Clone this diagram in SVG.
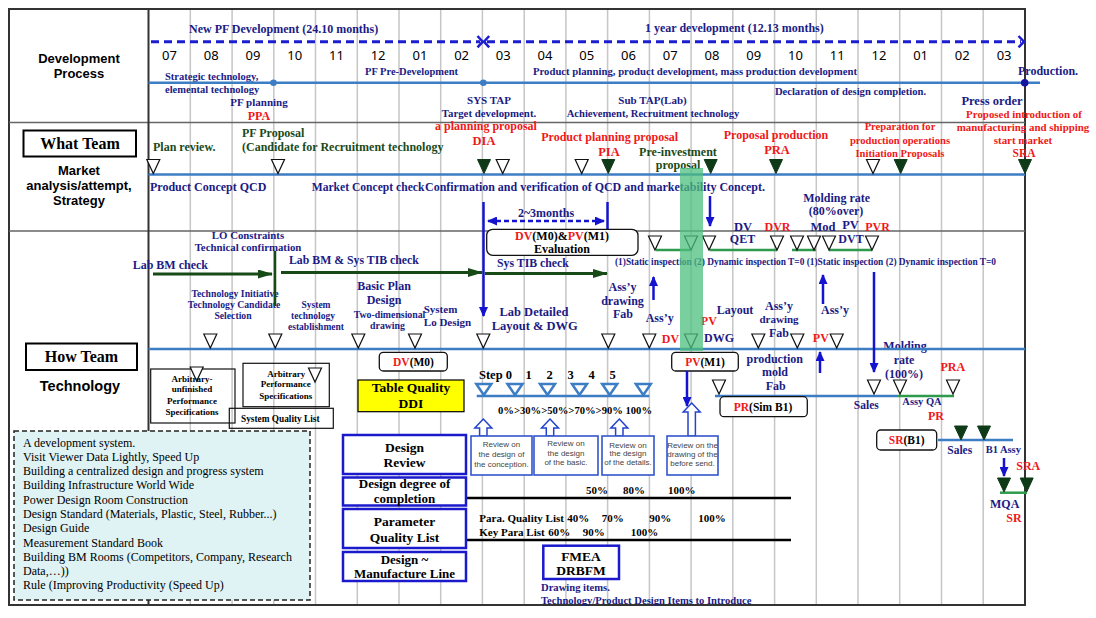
<svg xmlns="http://www.w3.org/2000/svg" xmlns:xlink="http://www.w3.org/1999/xlink" width="1096" height="618" viewBox="0 0 1096 618">
<defs>
<style>
.f{font-family:"Liberation Serif","Times New Roman",serif;font-weight:bold}
.r{font-family:"Liberation Serif","Times New Roman",serif}
.s{font-family:"Noto Sans","Liberation Sans",sans-serif}
.a{font-family:"Liberation Sans",Arial,sans-serif}
.b{font-weight:bold}
.m{text-anchor:middle}
.nv{fill:#1b1b85}
.rd{fill:#f01818}
.dg{fill:#1a4a1a}
.k{fill:#000}
.grid{stroke:#c6c6c6;stroke-width:1.5;fill:none}
.frm{stroke:#333;stroke-width:2;fill:none}
.tri{fill:#fff;stroke:#111;stroke-width:1.2}
.ftri{fill:#0f3a18;stroke:#0f3a18;stroke-width:1}
.sb{stroke:#3c7dc4;stroke-width:2.5;fill:none}
.gl{stroke:#2e9a4c;stroke-width:2.5;fill:none}
.ga{stroke:#174a17;stroke-width:3;fill:none}
.ba{stroke:#1414d0;stroke-width:2.5;fill:none}
.bx{fill:#fff;stroke:#1a1acc;stroke-width:2.5}
.rv{fill:#fff;stroke:#3355cc;stroke-width:1.6}
.rvt{font-family:"Liberation Sans",Arial,sans-serif;font-size:8px;fill:#444;text-anchor:middle}
.ha{fill:#fff;stroke:#2244cc;stroke-width:1.5}
.rb{fill:#fff;stroke:#111;stroke-width:1.3}
.tb{fill:none;stroke:#111;stroke-width:1.2}
</style>
<path id="tr" d="M-6.5,-14 L6.5,-14 L0,0 Z"/>
<path id="st" d="M-7.5,-11 L7.5,-11 L0,0 Z"/>
<marker id="ab" markerUnits="userSpaceOnUse" markerWidth="10" markerHeight="9" refX="9" refY="4.5" orient="auto"><path d="M0,0 L10,4.5 L0,9 Z" fill="#1414d0"/></marker>
<marker id="ab2" markerUnits="userSpaceOnUse" markerWidth="10" markerHeight="9" refX="9" refY="4.5" orient="auto-start-reverse"><path d="M0,0 L10,4.5 L0,9 Z" fill="#1414d0"/></marker>
<marker id="ag" markerUnits="userSpaceOnUse" markerWidth="15" markerHeight="9" refX="14" refY="4.5" orient="auto"><path d="M0,0 L15,4.5 L0,9 Z" fill="#174a17"/></marker>
</defs>
<rect width="1096" height="618" fill="#fff"/>

<g id="grid">
<path class="grid" d="M190.3,9V605M232.1,9V605M273.8,9V605M315.5,9V605M357.3,9V605M399,9V605M440.7,9V605M482.4,9V605M524.2,9V605M565.9,9V605M607.6,9V605M649.4,9V605M691.1,9V605M732.8,9V605M774.6,9V605M816.3,9V605M858,9V605M899.7,9V605M941.5,9V605M983.2,9V605"/>
<rect class="frm" x="9" y="9" width="1016" height="596"/>
<path d="M9,122.5H1025M9,231H1025" stroke="#666" stroke-width="1.5"/>
<path d="M148.5,9V605" stroke="#333" stroke-width="2"/>
</g>

<g id="row-labels">
<text class="a b m k" x="79" y="63" font-size="13">Development</text>
<text class="a b m k" x="79" y="78" font-size="13">Process</text>
<rect x="23.5" y="130.5" width="112.5" height="26" fill="#fff" stroke="#000" stroke-width="2"/>
<text class="f m k" x="80" y="148.5" font-size="16">What Team</text>
<text class="a b m k" x="79" y="174.5" font-size="13">Market</text>
<text class="a b m k" x="79" y="189.5" font-size="13">analysis/attempt,</text>
<text class="a b m k" x="79" y="204.5" font-size="13">Strategy</text>
<rect x="26" y="343.5" width="111" height="26.5" fill="#fff" stroke="#000" stroke-width="2"/>
<text class="f m k" x="81.5" y="362" font-size="16">How Team</text>
<text class="a b m k" x="80" y="391" font-size="14.5">Technology</text>
</g>

<g id="timeline">
<text class="f nv" x="189" y="33" font-size="12">New PF Development (24.10 months)</text>
<text class="f nv" x="645" y="32" font-size="12">1 year development (12.13 months)</text>
<path d="M151,41.7H480M487,41.7H1021" stroke="#1c1cd0" stroke-width="3" stroke-dasharray="8,5" fill="none"/>
<path d="M477.5,36 L482.7,41.7 L477.5,47.4M489.2,36 L484,41.7 L489.2,47.4M1018.5,36 L1024,41.7 L1018.5,47.4" stroke="#1c1cd0" stroke-width="2.5" fill="none"/>
<g class="s k m" font-size="13">
<text x="169.5" y="60">07</text><text x="211.2" y="60">08</text><text x="252.9" y="60">09</text><text x="294.7" y="60">10</text><text x="336.4" y="60">11</text><text x="378.1" y="60">12</text><text x="419.9" y="60">01</text><text x="461.6" y="60">02</text><text x="503.3" y="60">03</text><text x="545" y="60">04</text><text x="586.8" y="60">05</text><text x="628.5" y="60">06</text><text x="670.2" y="60">07</text><text x="712" y="60">08</text><text x="753.7" y="60">09</text><text x="795.4" y="60">10</text><text x="837.2" y="60">11</text><text x="878.9" y="60">12</text><text x="920.6" y="60">01</text><text x="962.3" y="60">02</text><text x="1004.1" y="60">03</text>
</g>
</g>

<g id="dev-process">
<text class="f nv" x="165" y="80" font-size="10.5">Strategic  technology,</text>
<text class="f nv" x="165" y="93" font-size="10.5">elemental technology</text>
<text class="f nv" x="365" y="75" font-size="10.5">PF Pre-Development</text>
<text class="f nv" x="533" y="75" font-size="10.6" textLength="324" lengthAdjust="spacingAndGlyphs">Product planning, product development, mass production development</text>
<text class="f nv" x="1018" y="75" font-size="12">Production.</text>
<text class="f nv m" x="259" y="106" font-size="11">PF planning</text>
<text class="f rd m" x="259" y="119.5" font-size="12">PPA</text>
<text class="f nv m" x="489" y="103.5" font-size="11">SYS TAP</text>
<text class="f nv m" x="489" y="117" font-size="10.8">Target development.</text>
<text class="f nv m" x="652.5" y="103.5" font-size="11">Sub TAP(Lab)</text>
<text class="f nv m" x="653" y="117" font-size="10.6">Achievement, Recruitment technology</text>
<text class="f nv m" x="850.5" y="95" font-size="10.6">Declaration of design completion.</text>
<text class="f nv m" x="992" y="105" font-size="12.5">Press order</text>
<text class="f rd m" x="1024" y="118" font-size="10.9">Proposed introduction of</text>
<text class="f rd m" x="1023" y="130.5" font-size="10.9">manufacturing and shipping</text>
<text class="f rd m" x="1023" y="143.5" font-size="10.9">start market</text>
<text class="f rd m" x="1024" y="156.5" font-size="11.5">SRA</text>
</g>

<g id="what-team">
<text class="f dg" x="153" y="151" font-size="12">Plan review.</text>
<text class="f dg" x="242" y="137" font-size="12">PF Proposal</text>
<text class="f dg" x="242" y="151" font-size="12">(Candidate for Recruitment technology</text>
<text class="f rd m" x="486" y="129.5" font-size="12">a planning proposal</text>
<text class="f rd m" x="484" y="144.5" font-size="12.5">DIA</text>
<text class="f rd m" x="609.7" y="141" font-size="12">Product planning proposal</text>
<text class="f rd m" x="609" y="155.5" font-size="12.5">PIA</text>
<text class="f dg m" x="678" y="155.5" font-size="12">Pre-investment</text>
<text class="f dg m" x="678" y="168.5" font-size="12">proposal</text>
<text class="f rd m" x="776" y="138.5" font-size="12">Proposal  production</text>
<text class="f rd m" x="777" y="153.5" font-size="12.5">PRA</text>
<text class="f rd m" x="900" y="130" font-size="10.6">Preparation for</text>
<text class="f rd m" x="900" y="143.5" font-size="10.6">production operations</text>
<text class="f rd m" x="900" y="156.5" font-size="10.6">Initiation Proposals</text>
<text class="f nv" x="150" y="191" font-size="12">Product Concept QCD</text>
<text class="f nv" x="311.7" y="191" font-size="11.6">Market Concept check</text>
<text class="f nv" x="425" y="191" font-size="12" textLength="340" lengthAdjust="spacingAndGlyphs">Confirmation and verification of QCD and marketability Concept.</text>
<text class="f nv m" x="546" y="216.5" font-size="12">2~3months</text>
<text class="f nv m" x="836.7" y="202" font-size="12">Molding rate</text>
<text class="f nv m" x="836" y="215" font-size="12">(80%over)</text>
<text class="f nv m" x="823" y="230.5" font-size="12.5">Mod</text>
<text class="f nv m" x="850.5" y="229" font-size="12.5">PV</text>
<text class="f rd m" x="877.5" y="230.5" font-size="12">PVR</text>
<text class="f nv m" x="743" y="230.5" font-size="12.5">DV</text>
<text class="f rd m" x="777.5" y="230.5" font-size="12">DVR</text>
</g>

<g id="how-team-top">
<text class="f nv m" x="248" y="238.5" font-size="10.8">LO Constraints</text>
<text class="f nv m" x="248" y="251.3" font-size="10.8">Technical confirmation</text>
<text class="f nv" x="132.7" y="269" font-size="12">Lab BM check</text>
<text class="f nv" x="289" y="263.5" font-size="11.8">Lab BM &amp; Sys TIB check</text>
<text class="f nv" x="497" y="266.8" font-size="11.8">Sys TIB check</text>
<text class="f nv m" x="742.5" y="243" font-size="12">QET</text>
<text class="f nv m" x="851" y="243" font-size="12">DVT</text>
<text class="f nv" x="615" y="265" font-size="10" textLength="381" lengthAdjust="spacingAndGlyphs">(1)Static inspection (2) Dynamic inspection T=0 (1)Static inspection (2) Dynamic inspection T=0</text>
<text class="f nv m" x="235" y="296.5" font-size="9.7">Technology Initiative</text>
<text class="f nv m" x="234" y="308" font-size="9.7">Technology Candidate</text>
<text class="f nv m" x="233" y="319" font-size="9.7">Selection</text>
<text class="f nv m" x="316" y="308" font-size="9.5">System</text>
<text class="f nv m" x="313" y="319" font-size="9.5">technology</text>
<text class="f nv m" x="316" y="329.5" font-size="9.5">establishment</text>
<text class="f nv m" x="384" y="290" font-size="12">Basic Plan</text>
<text class="f nv m" x="384" y="304" font-size="12">Design</text>
<text class="f nv m" x="389.5" y="318" font-size="9.8">Two-dimensional</text>
<text class="f nv m" x="387.5" y="329" font-size="9.8">drawing</text>
<text class="f nv m" x="440.5" y="312.5" font-size="11">System</text>
<text class="f nv m" x="447.5" y="326" font-size="11">Lo Design</text>
<text class="f nv m" x="534" y="315.5" font-size="12.5">Lab Detailed</text>
<text class="f nv m" x="534.7" y="329.5" font-size="12.5">Layout &amp; DWG</text>
<text class="f nv m" x="622.5" y="291" font-size="12">Ass’y</text>
<text class="f nv m" x="622.5" y="304.5" font-size="12">drawing</text>
<text class="f nv m" x="623" y="318" font-size="12">Fab</text>
<text class="f nv m" x="659.7" y="322" font-size="12">Ass’y</text>
<text class="f rd m" x="708.8" y="325" font-size="12">PV</text>
<text class="f nv m" x="735" y="314" font-size="12">Layout</text>
<text class="f rd m" x="670.5" y="342.5" font-size="12">DV</text>
<text class="f nv" x="704" y="342" font-size="12">DWG</text>
<text class="f nv m" x="779" y="309.5" font-size="12">Ass’y</text>
<text class="f nv m" x="779" y="322.5" font-size="11">drawing</text>
<text class="f nv m" x="779" y="336.5" font-size="12">Fab</text>
<text class="f nv m" x="835" y="313.5" font-size="12">Ass’y</text>
<text class="f rd m" x="820.8" y="341.5" font-size="12">PV</text>
<text class="f nv m" x="905" y="349.5" font-size="12">Molding</text>
<text class="f nv m" x="904" y="363.5" font-size="12">rate</text>
<text class="f nv m" x="904" y="378" font-size="12">(100%)</text>
<text class="f nv m" x="774.7" y="362.5" font-size="12">production</text>
<text class="f nv m" x="775" y="376" font-size="12">mold</text>
<text class="f nv m" x="775.8" y="390" font-size="12">Fab</text>
<text class="f rd m" x="952.8" y="370.5" font-size="12">PRA</text>
<text class="f nv m" x="866.3" y="408.5" font-size="11.5">Sales</text>
<text class="f nv m" x="922" y="405" font-size="10.5">Assy QA</text>
<text class="f rd m" x="936" y="419.5" font-size="12">PR</text>
<text class="f nv m" x="959.7" y="453.5" font-size="11.5">Sales</text>
<text class="f nv m" x="1003.3" y="452.5" font-size="10.5">B1 Assy</text>
<text class="f rd m" x="1028.3" y="469.5" font-size="12">SRA</text>
<text class="f nv m" x="1004.7" y="508" font-size="12">MQA</text>
<text class="f rd m" x="1014" y="522" font-size="12">SR</text>
</g>

<g id="connectors">
<path class="sb" stroke-width="2" d="M148.5,82.7H1040"/>
<circle cx="273.5" cy="82.7" r="3.3" fill="#3c7dc4"/>
<circle cx="483.3" cy="82.7" r="3.3" fill="#3c7dc4"/>
<circle cx="1024.7" cy="82.7" r="3.8" fill="#1414a0"/>
<path class="sb" d="M148.5,174.5H1025"/>
<path class="sb" d="M148.5,349H1025"/>
<path class="ba" d="M483.5,202V316" marker-end="url(#ab)"/>
<path class="ba" d="M607.5,202V229"/>
<path stroke="#1414d0" stroke-width="2.5" fill="none" stroke-dasharray="5,3" d="M488,221H604" marker-start="url(#ab2)" marker-end="url(#ab2)"/>
<path class="ba" d="M710,196V226" marker-end="url(#ab)"/>
<path d="M275,251V306" stroke="#174a17" stroke-width="2.5"/>
<path class="ga" d="M153,274H272" marker-end="url(#ag)"/>
<path class="ga" d="M281,272.5H482" marker-end="url(#ag)"/>
<path class="ga" d="M485,273.5H607" marker-end="url(#ag)"/>
<path class="gl" d="M656,250H690M710,250H777M792,250H816M829,250H872"/>
<path class="ba" d="M653.5,300V277" marker-end="url(#ab)"/>
<path class="ba" d="M823,304V275" marker-end="url(#ab)"/>
<path class="ba" d="M874,272V372" marker-end="url(#ab)"/>
<path class="ba" d="M820,373V352" marker-end="url(#ab)"/>
<path class="sb" d="M476.7,396H649.3" stroke-width="3"/>
<path class="sb" d="M715,396H897"/>
<path class="gl" d="M897,396H954"/>
<path class="sb" d="M938,440H1013"/>
<path class="gl" d="M1000,492.7H1027"/>
<path class="ba" d="M1004,458V476" marker-end="url(#ab)"/>
<path d="M466,498H791M466,540H791" stroke="#000" stroke-width="2.5"/>
</g>

<g id="triangles">
<g class="tri">
<use xlink:href="#tr" x="153.3" y="173.5"/><use xlink:href="#tr" x="278" y="173.5"/><use xlink:href="#tr" x="502.7" y="173.5"/><use xlink:href="#tr" x="581.7" y="173.5"/><use xlink:href="#tr" x="873" y="173.5"/>
<use xlink:href="#tr" x="655" y="250"/><use xlink:href="#tr" x="691" y="250"/><use xlink:href="#tr" x="709" y="250"/><use xlink:href="#tr" x="777" y="250"/><use xlink:href="#tr" x="797" y="250"/><use xlink:href="#tr" x="814" y="250"/><use xlink:href="#tr" x="829" y="250"/><use xlink:href="#tr" x="872" y="250"/>
<use xlink:href="#tr" x="210.3" y="348"/><use xlink:href="#tr" x="275.3" y="348"/><use xlink:href="#tr" x="358.3" y="348"/><use xlink:href="#tr" x="415" y="348"/><use xlink:href="#tr" x="483.3" y="348"/><use xlink:href="#tr" x="608.3" y="348"/><use xlink:href="#tr" x="649.3" y="348"/><use xlink:href="#tr" x="691" y="348"/><use xlink:href="#tr" x="758.3" y="348"/><use xlink:href="#tr" x="797.3" y="348"/><use xlink:href="#tr" x="836.7" y="348"/>
<use xlink:href="#tr" x="719" y="394"/><use xlink:href="#tr" x="874" y="394"/><use xlink:href="#tr" x="900" y="394"/><use xlink:href="#tr" x="953" y="394"/>
</g>
<g class="ftri">
<use xlink:href="#tr" x="484" y="173.5"/><use xlink:href="#tr" x="608.3" y="173.5"/><use xlink:href="#tr" x="710.7" y="173.5"/><use xlink:href="#tr" x="776" y="173.5"/><use xlink:href="#tr" x="900.7" y="173.5"/><use xlink:href="#tr" x="1025" y="173.5"/>
<use xlink:href="#tr" x="961" y="440"/><use xlink:href="#tr" x="984" y="440"/>
<use xlink:href="#tr" x="1004" y="492"/><use xlink:href="#tr" x="1026.7" y="492"/>
</g>
<g fill="#fff" stroke="#3c7dc4" stroke-width="2.5">
<use xlink:href="#st" x="483.8" y="395"/><use xlink:href="#st" x="515" y="395"/><use xlink:href="#st" x="547.5" y="395"/><use xlink:href="#st" x="579.5" y="395"/><use xlink:href="#st" x="609.7" y="395"/><use xlink:href="#st" x="643.3" y="395"/>
</g>
</g>

<g id="evaluation-box">
<rect class="rb" x="486.7" y="229.3" width="151.3" height="26" rx="6"/>
<text class="f m" x="562" y="240" font-size="12"><tspan class="rd">DV</tspan><tspan class="k">(M0)&amp;</tspan><tspan class="rd">PV</tspan><tspan class="k">(M1)</tspan></text>
<text class="f m k" x="562" y="252.8" font-size="12">Evaluation</text>
</g>

<g id="green-band">
<rect x="680" y="168" width="23" height="183" fill="#4cbf7c" opacity="0.75"/>
</g>

<g id="arbitrary">
<rect class="tb" x="150.7" y="369" width="84.3" height="54"/>
<use xlink:href="#tr" x="196.7" y="381" class="tri"/>
<text class="f m k" x="192" y="381.5" font-size="9">Arbitrary-</text>
<text class="f m k" x="192" y="392" font-size="9">unfinished</text>
<text class="f m k" x="192" y="403.5" font-size="9">Performance</text>
<text class="f m k" x="192" y="415" font-size="9">Specifications</text>
<rect class="tb" x="243" y="363.3" width="86.3" height="43.4"/>
<use xlink:href="#tr" x="315" y="382" class="tri"/>
<text class="f m k" x="286.3" y="376.7" font-size="9">Arbitrary</text>
<text class="f m k" x="285.8" y="387.3" font-size="9">Performance</text>
<text class="f m k" x="285.8" y="398.5" font-size="9">Specifications</text>
<rect class="tb" x="229.3" y="408.3" width="104" height="20" fill="#fff"/>
<text class="f m k" x="280.3" y="421.5" font-size="9.3">System Quality List</text>
</g>

<g id="notes">
<rect x="14" y="431" width="296" height="169" fill="#dff2f4" stroke="#222" stroke-width="1.5" stroke-dasharray="5,3"/>
<g class="r k" font-size="12">
<text x="23" y="446.5">A development system.</text>
<text x="23" y="460.8">Visit Viewer Data Lightly, Speed Up</text>
<text x="23" y="475">Building a centralized design and progress system</text>
<text x="23" y="489.3">Building Infrastructure World Wide</text>
<text x="23" y="503.5">Power Design Room Construction</text>
<text x="23" y="517.8">Design Standard (Materials, Plastic, Steel, Rubber...)</text>
<text x="23" y="532.2">Design Guide</text>
<text x="23" y="546.5">Measurement Standard Book</text>
<text x="23" y="560.8">Building BM Rooms (Competitors, Company, Research</text>
<text x="23" y="575">Data,…))</text>
<text x="23" y="589.3">Rule (Improving Productivity (Speed Up)</text>
</g>
</g>

<g id="dv-m0">
<rect class="rb" x="379.3" y="352.3" width="68" height="18.7" rx="4"/>
<text class="f m" x="413.5" y="365.5" font-size="11.5"><tspan class="rd">DV</tspan><tspan class="k">(M0)</tspan></text>
</g>
<g id="pv-m1">
<rect class="rb" x="671.7" y="352.3" width="66.6" height="18.7" rx="4"/>
<text class="f m" x="705" y="365.5" font-size="11.5"><tspan class="rd">PV</tspan><tspan class="k">(M1)</tspan></text>
<path class="ba" stroke-width="2" d="M687,371V406" marker-end="url(#ab)"/>
</g>
<g id="pr-sim">
<rect class="rb" x="720" y="396.7" width="87.3" height="20" rx="4"/>
<text class="f m" x="763" y="410.5" font-size="11.5"><tspan class="rd">PR</tspan><tspan class="k">(Sim B1)</tspan></text>
</g>
<g id="sr-b1">
<rect class="rb" x="876.7" y="430" width="60" height="20" rx="4"/>
<text class="f m" x="906.7" y="444" font-size="11.5"><tspan class="rd">SR</tspan><tspan class="k">(B1)</tspan></text>
</g>

<g id="ddi">
<rect x="358" y="380" width="106" height="31.7" fill="#ffff00" stroke="#000" stroke-width="1.2"/>
<text class="f m k" x="411" y="392" font-size="13.5">Table Quality</text>
<text class="f m k" x="411" y="408.3" font-size="13.5">DDI</text>
</g>

<g id="steps">
<text class="f k" font-size="12.5" y="378.5"><tspan x="479">Step 0</tspan><tspan x="525.5">1</tspan><tspan x="546.5">2</tspan><tspan x="567.5">3</tspan><tspan x="588.5">4</tspan><tspan x="609.5">5</tspan></text>
<text class="f k" x="498" y="414.3" font-size="11" textLength="154" lengthAdjust="spacingAndGlyphs">0%&gt;30%&gt;50%&gt;70%&gt;90% 100%</text>
</g>

<g id="review-arrows">
<path class="ha" d="M483.3,419 L491.8,428 L487,428 L487,436 L479.6,436 L479.6,428 L474.8,428 Z"/>
<path class="ha" d="M550,419 L558.5,428 L553.7,428 L553.7,436 L546.3,436 L546.3,428 L541.5,428 Z"/>
<path class="ha" d="M619.3,419 L627.8,428 L623,428 L623,436 L615.6,436 L615.6,428 L610.8,428 Z"/>
<path class="ha" d="M691.7,403 L700.2,412 L695.4,412 L695.4,436 L688,436 L688,412 L683.2,412 Z"/>
</g>

<g id="review-boxes">
<rect class="rv" x="471" y="436" width="61" height="39"/>
<text class="rvt" x="501.5" y="447">Review on</text><text class="rvt" x="501.5" y="457">the design of</text><text class="rvt" x="501.5" y="466.5">the conception.</text>
<rect class="rv" x="534" y="436" width="64" height="39"/>
<text class="rvt" x="566" y="446">Review on</text><text class="rvt" x="566" y="455.5">the design</text><text class="rvt" x="566" y="465">of the basic.</text>
<rect class="rv" x="602" y="436" width="52" height="39"/>
<text class="rvt" x="628" y="447.5" font-size="7.3">Review on</text><text class="rvt" x="628" y="456.2" font-size="7.3">the design</text><text class="rvt" x="628" y="465" font-size="7.3">of the details.</text>
<rect class="rv" x="667" y="436" width="51" height="39"/>
<text class="rvt" x="692.5" y="448" font-size="7.2">Review on the</text><text class="rvt" x="692.5" y="457" font-size="7.2">drawing of the</text><text class="rvt" x="692.5" y="466" font-size="7.2">before send.</text>
</g>

<g id="design-boxes">
<rect class="bx" x="343" y="435" width="123" height="39"/>
<text class="f m k" x="404.5" y="451.5" font-size="13.5">Design</text>
<text class="f m k" x="404.5" y="467" font-size="13.5">Review</text>
<rect class="bx" x="343" y="477.5" width="123" height="28"/>
<text class="f m k" x="404.5" y="488" font-size="13">Design degree of</text>
<text class="f m k" x="404.5" y="502.5" font-size="13">completion</text>
<rect class="bx" x="343" y="509" width="123" height="39"/>
<text class="f m k" x="404.5" y="525.5" font-size="13.5">Parameter</text>
<text class="f m k" x="404.5" y="541.5" font-size="13.5">Quality List</text>
<rect class="bx" x="343" y="552" width="123" height="29"/>
<text class="f m k" x="404.5" y="563.5" font-size="13">Design ~</text>
<text class="f m k" x="404.5" y="577.5" font-size="13">Manufacture Line</text>
</g>

<g id="percentages">
<text class="f k" font-size="11" y="493.5"><tspan x="586">50%</tspan><tspan x="623">80%</tspan><tspan x="668">100%</tspan></text>
<text class="f k" font-size="11" y="522"><tspan x="479.3">Para. Quality List</tspan><tspan x="567.3">40%</tspan><tspan x="601.7">70%</tspan><tspan x="649.3">90%</tspan><tspan x="698.3">100%</tspan></text>
<text class="f k" font-size="11" y="535.5"><tspan x="479.3">Key Para List</tspan><tspan x="548.3">60%</tspan><tspan x="582.7">90%</tspan><tspan x="630.7">100%</tspan></text>
</g>

<g id="fmea">
<rect class="bx" x="543.3" y="545.7" width="75.7" height="33.3"/>
<text class="f m k" x="581" y="560.5" font-size="13.5">FMEA</text>
<text class="f m k" x="581" y="574.5" font-size="13.5">DRBFM</text>
<text class="f nv" x="541" y="590.5" font-size="10.6">Drawing items.</text>
<text class="f nv" x="541" y="603.5" font-size="10.6">Technology/Product Design Items to Introduce</text>
</g>
</svg>
